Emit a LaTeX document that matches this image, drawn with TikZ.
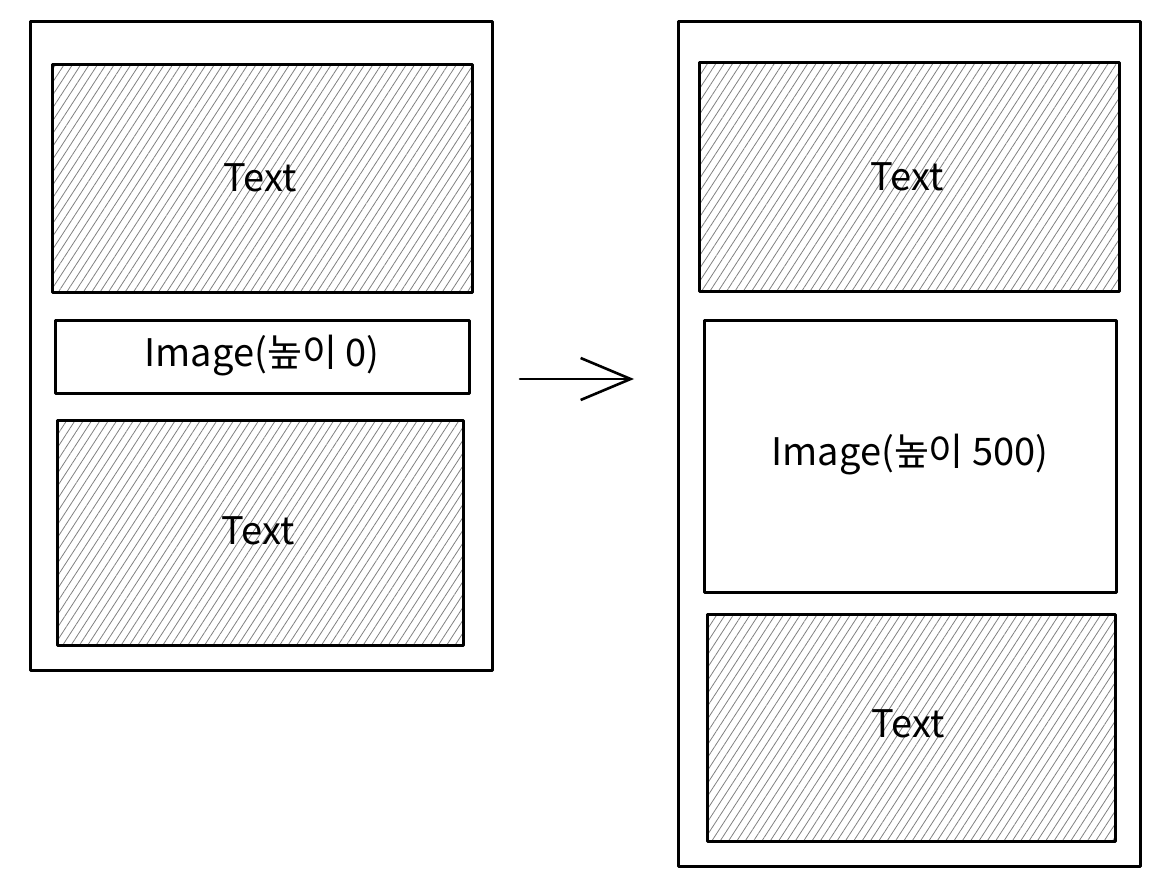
\documentclass[tikz,border=0pt]{standalone}
\usepackage{fontspec}
\newfontfamily\krfont{Noto Sans CJK KR}
\usetikzlibrary{patterns.meta,arrows.meta}
\begin{document}
\begin{tikzpicture}[x=1pt,y=-1pt,
  frame/.style={draw=black,line width=3pt,line join=round},
  hatched/.style={draw=black,line width=3pt,line join=round,pattern={Lines[angle=57,distance=7pt,line width=0.8pt]},pattern color=black!50},
  plainbox/.style={draw=black,line width=3pt,line join=round,fill=white},
  lbl/.style={font=\krfont\fontsize{38}{42}\selectfont,text=black},
  arr/.style={line width=2.6pt,line cap=round,-{Straight Barb[length=50pt,width=42pt,line width=2.6pt]}}]
\useasboundingbox (0,0) rectangle (1170,896);
% left
\draw[frame] (30,22) rectangle (492,670);
\draw[hatched] (52,65) rectangle (472,292);
\node[lbl] (lt) at (260,178) {Text};
\draw[plainbox] (55,320) rectangle (469,393);
\node[lbl] (li) at (262,356) {Image(높이 0)};
\draw[hatched] (57,420) rectangle (463,645);
\node[lbl] (lb) at (258,531) {Text};
% arrow
\coordinate (a1) at (520,379);
\coordinate (a2) at (634,379);
\draw[arr] (a1) -- (a2);
% right
\draw[frame] (678,22) rectangle (1140,866);
\draw[hatched] (699,63) rectangle (1119,291);
\node[lbl] (rt) at (907,177) {Text};
\draw[plainbox] (704,320) rectangle (1116,592);
\node[lbl] (ri) at (910,455) {Image(높이 500)};
\draw[hatched] (707,614) rectangle (1115,841);
\node[lbl] (rb) at (908,724) {Text};
\end{tikzpicture}
\end{document}
